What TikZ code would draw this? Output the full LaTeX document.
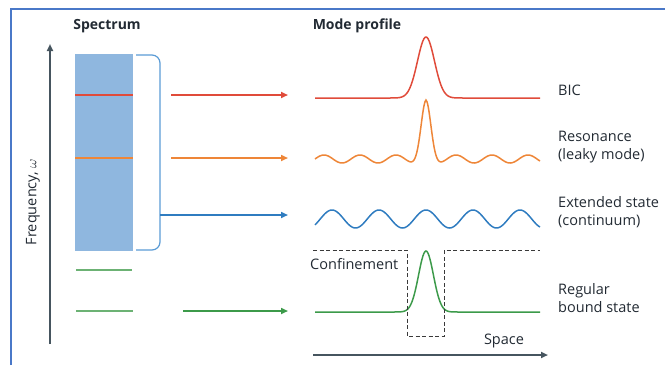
\documentclass[tikz,border=0pt]{standalone}
\usepackage{fontspec}
\setmainfont{Open Sans}
\usetikzlibrary{arrows.meta}
\definecolor{framblue}{HTML}{4A78C8}
\definecolor{bandblue}{HTML}{8FB7DF}
\definecolor{bracketblue}{HTML}{5A9BD5}
\definecolor{bicred}{HTML}{E04B3A}
\definecolor{resorange}{HTML}{EE8638}
\definecolor{extblue}{HTML}{2F7CC0}
\definecolor{boundgreen}{HTML}{3C9A4A}
\definecolor{levgreen}{HTML}{6CB274}
\definecolor{axisgray}{HTML}{46555F}
\definecolor{confgray}{HTML}{3A3A3A}
\definecolor{txtgray}{HTML}{222A33}

\begin{document}
\begin{tikzpicture}[x=1pt, y=-1pt]

% Styles
\tikzset{
    txt/.style={font=\fontsize{14.5}{18}\selectfont, text=txtgray, inner sep=0pt},
    lbl/.style={txt, align=left, anchor=west},
    heading/.style={font=\bfseries\fontsize{14}{16}\selectfont, text=txtgray, inner sep=0pt},
    axis/.style={-{Triangle[length=7pt,width=6pt]}, line width=1.8pt, axisgray},
    arrow/.style={-{Triangle[length=7pt,width=6pt]}, line width=1.6pt},
    level/.style={line width=1.3pt},
    profile/.style={line width=1.5pt, smooth, samples=220, domain=315:540},
    band/.style={rectangle, fill=bandblue, minimum width=58pt, minimum height=197pt, inner sep=0pt}
}

\useasboundingbox (0,0) rectangle (665,365);

% Frame
\draw[framblue, line width=2pt] (11,365) -- (11,9) -- (665,9);

% Headings
\node[heading] (spectrum) at (107,26) {Spectrum};
\node[heading] (mode) at (357,26) {Mode profile};

% Frequency axis
\coordinate (fbot) at (50,344);
\coordinate (ftop) at (50,44);
\draw[axis] (fbot) -- (ftop);
\node[txt, rotate=90] (freq) at (33,202) {Frequency, $\omega$};

% Spectrum
\node[band] (cont) at (104,152.5) {};
\draw[level, bicred] (75,95) -- (133,95);
\draw[level, resorange] (75,158) -- (133,158);
\draw[level, levgreen] (76,270) -- (132,270);
\draw[level, levgreen] (76,311) -- (133,311);

% Bracket round the continuum
\draw[bracketblue, line width=1.2pt, rounded corners=8pt] (136,55) -- (160,55) -- (160,250) -- (136,250);

% Arrows to the profiles
\foreach \name/\y/\col/\xs in {bic/95/bicred/171, reso/158/resorange/171, ext/215/extblue/160, bound/311/boundgreen/183} {
    \coordinate (\name s) at (\xs,\y);
    \coordinate (\name e) at (288,\y);
    \draw[arrow, \col] (\name s) -- (\name e);
}

% Mode profiles
\draw[profile, bicred] plot (\x, {98 - 61*exp(-((\x-426)/12)^2)});
\draw[profile, resorange] plot (\x, {159 - 4*cos(10*(abs(\x-426)-30)) - 57*exp(-((\x-426)/7)^2)});
\draw[profile, extblue] plot (\x, {219 - 9*cos(7.66*(\x-426))});
\draw[profile, boundgreen] plot (\x, {312 - 61*exp(-((\x-426)/10.5)^2)});

% Confinement
\draw[confgray, line width=1pt, dash pattern=on 4pt off 2.5pt] (313,250) -- (407,250) -- (407,336) -- (444,336) -- (444,250) -- (540,250);
\node[txt, anchor=west] (conf) at (310,264) {Confinement};

% Space axis
\coordinate (sl) at (313,355);
\coordinate (sr) at (548,355);
\draw[axis] (sl) -- (sr);
\node[txt] (space) at (504,341) {Space};

% Labels
\node[lbl] (biclbl) at (558,90) {BIC};
\node[lbl] (resolbl) at (558,147) {Resonance\\(leaky mode)};
\node[lbl] (extlbl) at (558,212.5) {Extended state\\(continuum)};
\node[lbl] (boundlbl) at (558,298) {Regular\\bound state};

\end{tikzpicture}
\end{document}
